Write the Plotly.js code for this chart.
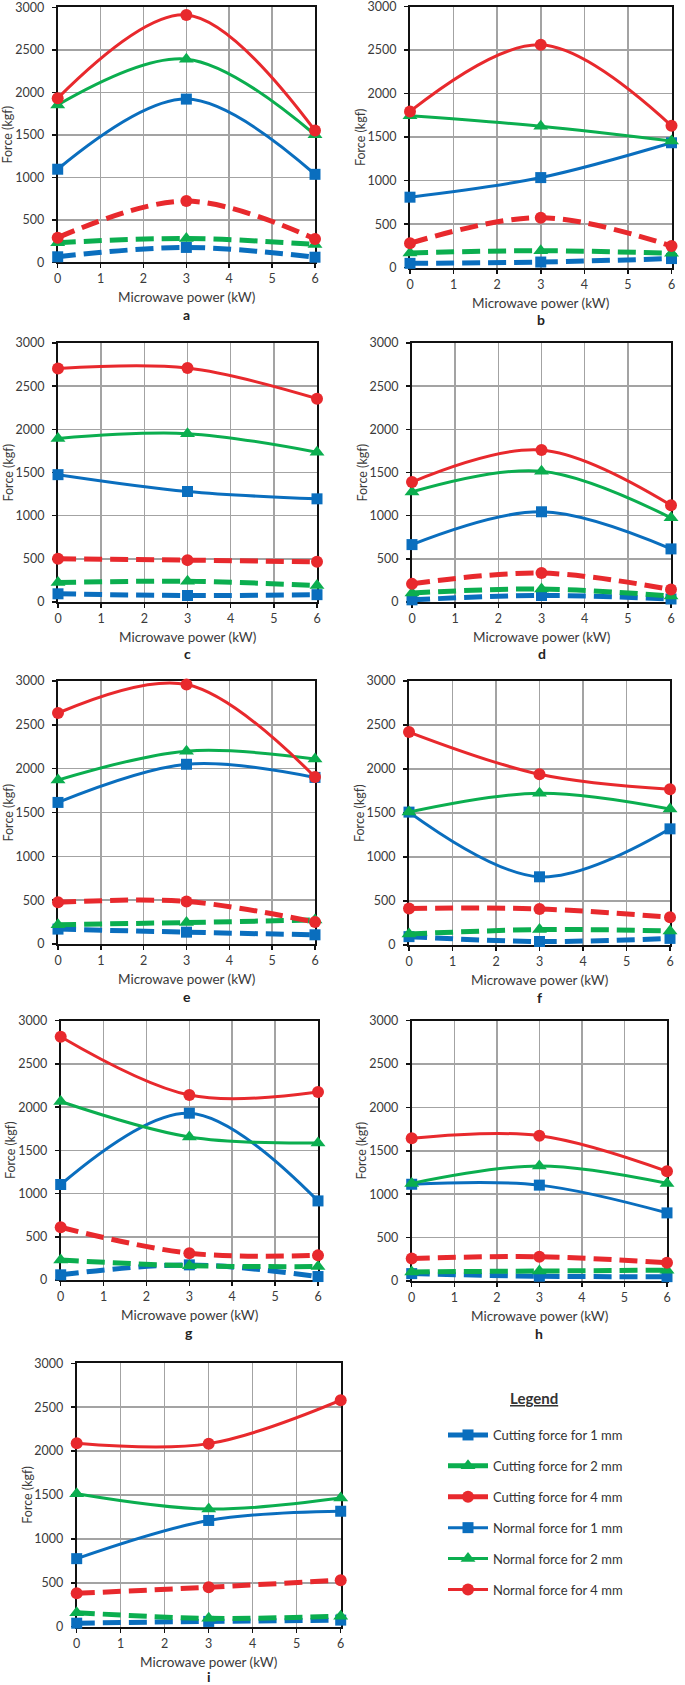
<!DOCTYPE html>
<html><head><meta charset="utf-8">
<script src="https://cdn.plot.ly/plotly-3.0.1.min.js"></script>
<style>html,body{margin:0;padding:0;background:#fff}#chart{width:685px;height:1685px}</style>
</head><body><div id="chart"></div>
<script>
// ---- data ----
const power = [0, 3, 6];
const panelLetters = ['a', 'b', 'c', 'd', 'e', 'f', 'g', 'h', 'i'];
const xTickVals = [0, 1, 2, 3, 4, 5, 6];
const yTickVals = [0, 500, 1000, 1500, 2000, 2500, 3000];

// cutting force (dashed), one [0 kW, 3 kW, 6 kW] triple per panel a..i
const cut1mm = [[65,175,60],[50,65,105],[95,75,85],[25,75,35],[170,135,105],[95,40,75],[60,175,40],[85,55,50],[40,60,75]];
const cut2mm = [[230,280,210],[170,195,165],[225,240,190],[105,150,70],[220,245,275],[125,175,160],[230,165,155],[105,115,125],[160,95,120]];
const cut4mm = [[290,720,275],[280,575,250],[500,485,465],[210,335,145],[475,485,250],[415,410,315],[610,310,285],[260,280,210],[380,450,530]];
// normal force (solid)
const normal1mm = [[1095,1920,1035],[810,1035,1435],[1475,1280,1195],[665,1045,615],[1615,2050,1900],[1510,775,1320],[1105,1930,915],[1115,1105,785],[775,1210,1315]];
const normal2mm = [[1850,2390,1500],[1745,1625,1455],[1895,1950,1735],[1275,1515,975],[1870,2200,2110],[1510,1725,1545],[2065,1655,1585],[1125,1325,1125],[1515,1340,1465]];
const normal4mm = [[1930,2910,1550],[1795,2560,1630],[2705,2710,2355],[1390,1760,1120],[2635,2960,1905],[2420,1940,1770],[2815,2140,2175],[1645,1675,1265],[2090,2085,2580]];

const xTitle = 'Microwave power (kW)';
const yTitle = 'Force (kgf)';
const legendTitle = 'Legend';

// ---- styling / layout ----
const W = 685, H = 1685;
const BLUE = '#0A6EBE', GREEN = '#0BAE4F', RED = '#E8292D';
const FONT = 'Lato, "Open Sans", "Liberation Sans", sans-serif';
const TXT = '#3A3A3A';

const series = [
  {name: 'Cutting force for 1 mm', data: cut1mm, color: BLUE, symbol: 'square', cut: true},
  {name: 'Cutting force for 2 mm', data: cut2mm, color: GREEN, symbol: 'triangle-up', cut: true},
  {name: 'Cutting force for 4 mm', data: cut4mm, color: RED, symbol: 'circle', cut: true},
  {name: 'Normal force for 1 mm', data: normal1mm, color: BLUE, symbol: 'square', cut: false},
  {name: 'Normal force for 2 mm', data: normal2mm, color: GREEN, symbol: 'triangle-up', cut: false},
  {name: 'Normal force for 4 mm', data: normal4mm, color: RED, symbol: 'circle', cut: false}
];
const markerSize = {'square': 11, 'triangle-up': 13, 'circle': 12};

// plot-area boxes in pixels: [left, right, top, bottom]
const boxes = [
  [57.7, 315, 7.3, 262.3], [410, 671.5, 6.5, 267.7],
  [58, 317, 343, 602], [412, 671, 343, 602],
  [58, 315, 681, 944], [409, 670, 681, 945],
  [60.7, 318, 1020.7, 1280], [411.7, 667, 1020.7, 1281],
  [76.7, 340.7, 1363.3, 1626.7]
];

const px = v => v / W;
const py = v => 1 - v / H;

const traces = [];
const layout = {
  width: W, height: H,
  margin: {l: 0, r: 0, t: 0, b: 0},
  paper_bgcolor: '#fff', plot_bgcolor: '#fff',
  font: {family: FONT, color: TXT, size: 12},
  showlegend: true,
  legend: {
    x: px(443), y: py(1420), xanchor: 'left', yanchor: 'top',
    font: {family: FONT, size: 13, color: '#333'},
    tracegroupgap: 11, itemwidth: 40, bgcolor: 'rgba(0,0,0,0)'
  },
  annotations: []
};

boxes.forEach((b, p) => {
  const [l, r, t, btm] = b;
  const xa = 'xaxis' + (p ? p + 1 : ''), ya = 'yaxis' + (p ? p + 1 : '');
  const xr = 'x' + (p ? p + 1 : ''), yr = 'y' + (p ? p + 1 : '');
  const common = {
    showline: true, mirror: true, linecolor: '#111', linewidth: 2,
    showgrid: true, gridcolor: '#A3A3A3', gridwidth: 1.5,
    zeroline: false, ticks: 'outside', ticklen: 4, tickwidth: 1.5, tickcolor: '#111',
    tickfont: {family: FONT, size: 12.5, color: TXT}, fixedrange: true, layer: 'below traces',
    ticklabeloverflow: 'allow'
  };
  layout[xa] = Object.assign({}, common, {
    domain: [px(l), px(r)], range: [0, 6], tickmode: 'array', tickvals: xTickVals,
    anchor: yr
  });
  layout[ya] = Object.assign({}, common, {
    domain: [py(btm), py(t)], range: [0, 3000], tickmode: 'array', tickvals: yTickVals,
    anchor: xr, ticklabelstandoff: 5
  });
  series.forEach(s => {
    traces.push({
      type: 'scatter', mode: 'lines+markers', x: power, y: s.data[p],
      xaxis: xr, yaxis: yr, name: s.name, showlegend: false, cliponaxis: false,
      hoverinfo: 'skip',
      line: {color: s.color, width: s.cut ? 5 : 3, dash: s.cut ? '18px,8px' : 'solid', shape: 'spline', smoothing: 1},
      marker: {symbol: s.symbol, size: markerSize[s.symbol], color: s.color}
    });
  });
  const cx = (l + r) / 2;
  layout.annotations.push({
    xref: 'paper', yref: 'paper', x: px(cx), y: py(btm + 35), xanchor: 'center', yanchor: 'middle',
    text: xTitle, showarrow: false, font: {family: FONT, size: 13.5, color: TXT}
  });
  layout.annotations.push({
    xref: 'paper', yref: 'paper', x: px(l - 50), y: py((t + btm) / 2), xanchor: 'center', yanchor: 'middle',
    text: yTitle, textangle: -90, showarrow: false, font: {family: FONT, size: 12.5, color: TXT}
  });
  const letterY = Math.min(btm + 52, H - 9);
  layout.annotations.push({
    xref: 'paper', yref: 'paper', x: px(cx), y: py(letterY), xanchor: 'center', yanchor: 'middle',
    text: '<b>' + panelLetters[p] + '</b>', showarrow: false, font: {family: FONT, size: 14, color: '#222'}
  });
});

// legend entries
series.forEach((s, i) => {
  traces.push({
    type: 'scatter', mode: 'lines+markers', x: [null], y: [null], xaxis: 'x', yaxis: 'y',
    name: s.name, legendgroup: 'g' + i, showlegend: true, hoverinfo: 'skip',
    line: {color: s.color, width: s.cut ? 5 : 3},
    marker: {symbol: s.symbol, size: markerSize[s.symbol], color: s.color}
  });
});

layout.annotations.push({
  xref: 'paper', yref: 'paper', x: px(534), y: py(1398), xanchor: 'center', yanchor: 'middle',
  text: '<b><u>' + legendTitle + '</u></b>', showarrow: false, font: {family: FONT, size: 15, color: '#333'}
});

Plotly.newPlot('chart', traces, layout, {staticPlot: true, displayModeBar: false});
</script>
</body></html>
